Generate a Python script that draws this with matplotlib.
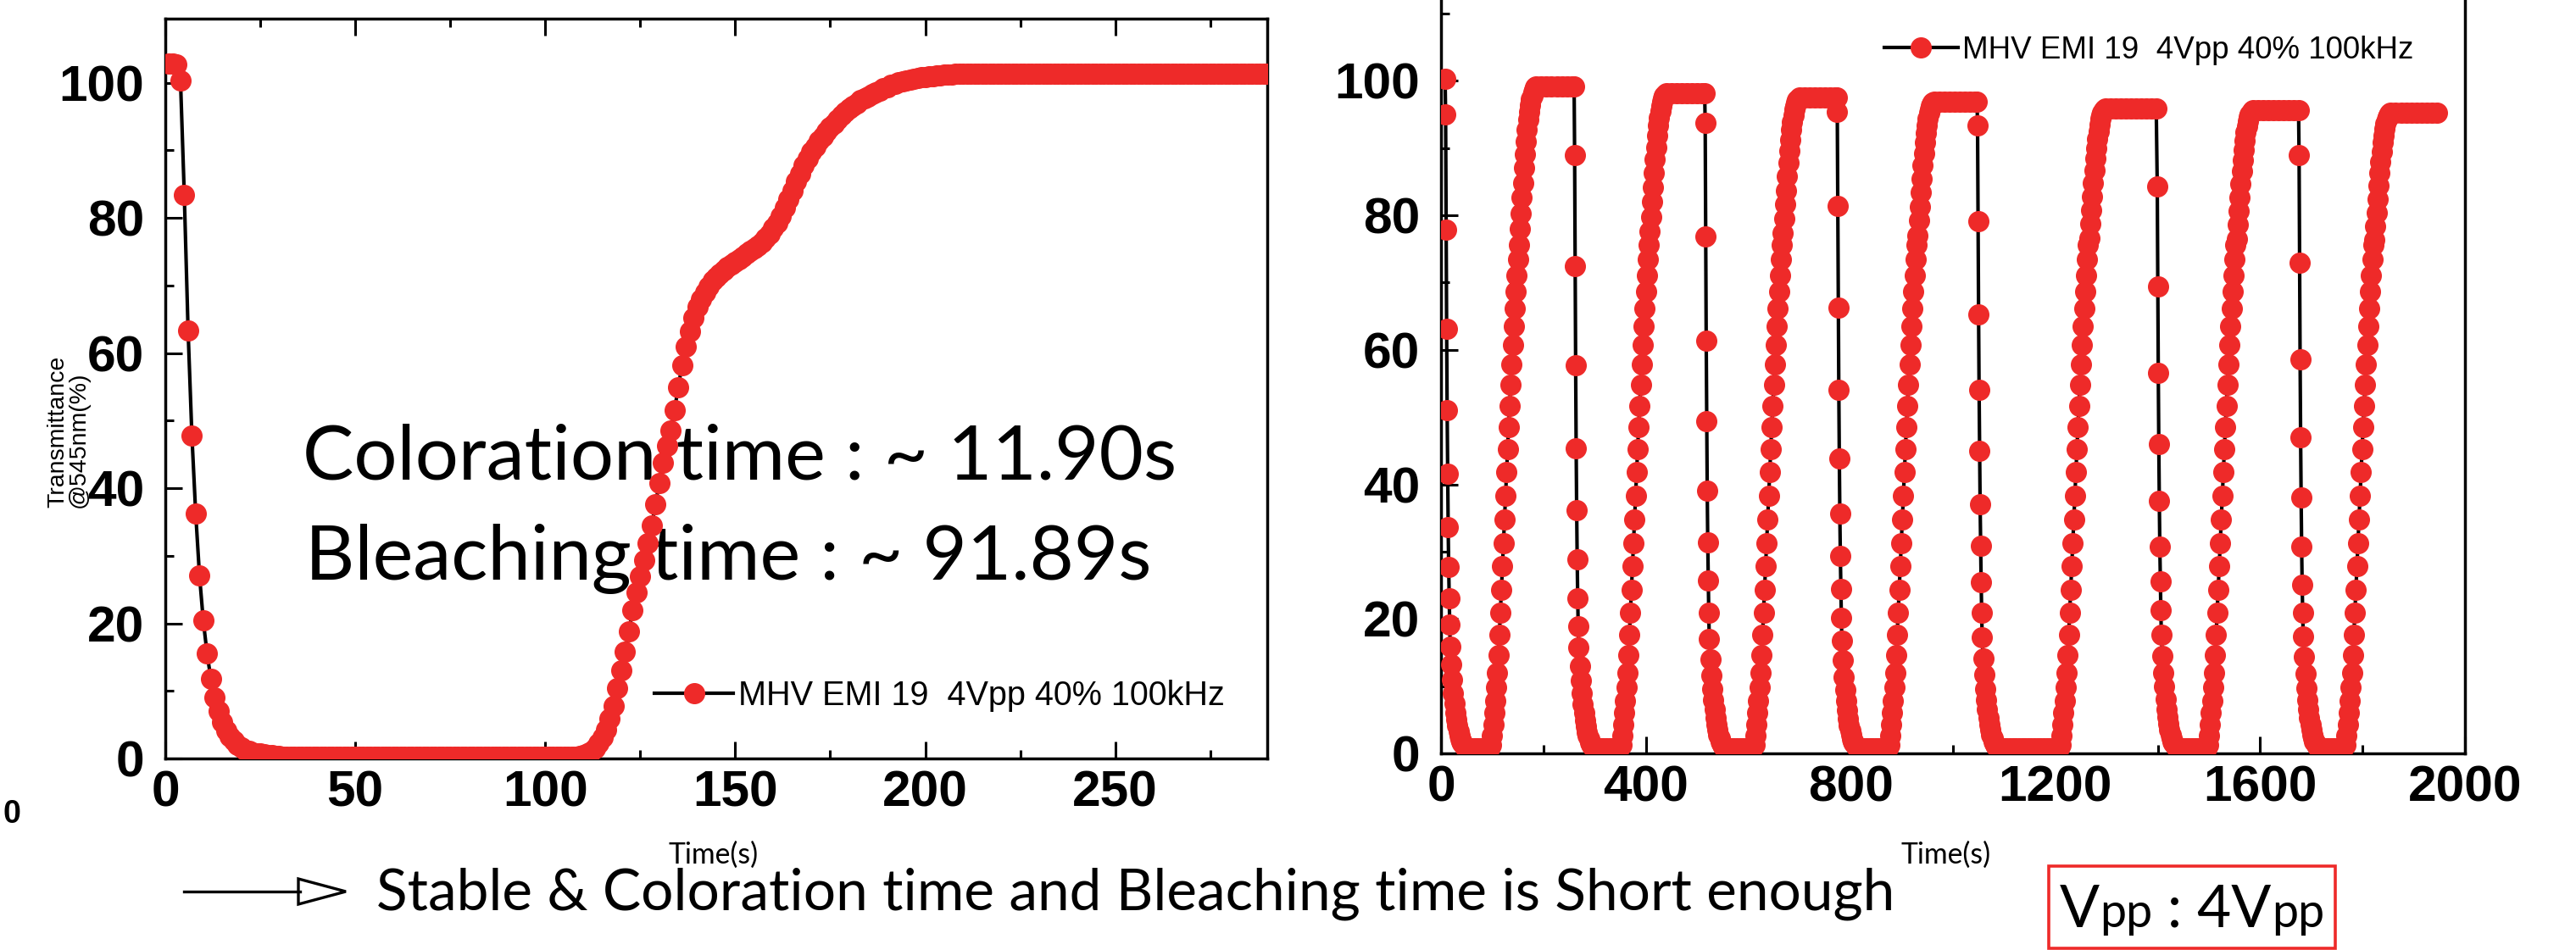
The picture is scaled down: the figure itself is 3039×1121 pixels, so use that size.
import numpy as np
import matplotlib
matplotlib.use("Agg")
import matplotlib.pyplot as plt
from matplotlib.lines import Line2D
from matplotlib.patches import Polygon, Rectangle
from matplotlib.ticker import MultipleLocator
from matplotlib.offsetbox import TextArea, HPacker, AnchoredOffsetbox

RED = "#ee2a29"
W, H = 3039, 1121  # output size in px at dpi 100

plt.rcParams["font.family"] = "Liberation Sans"

# ---- left panel: one coloration / bleaching run, one sample per second ----
t_single = np.arange(1, 291)
T_single = [
    102.9, 102.9, 102.7, 100.4, 83.4, 63.3, 47.8, 36.3, 27.1, 20.4,
    15.5, 11.8, 9.0, 7.0, 5.4, 4.2, 3.3, 2.6, 2.0, 1.6,
    1.3, 1.1, 0.9, 0.8, 0.7, 0.6, 0.5, 0.5, 0.4, 0.4,
    0.3, 0.3, 0.3, 0.3, 0.3, 0.3, 0.3, 0.3, 0.3, 0.3,
    0.3, 0.3, 0.3, 0.3, 0.3, 0.3, 0.3, 0.3, 0.3, 0.3,
    0.3, 0.3, 0.3, 0.3, 0.3, 0.3, 0.3, 0.3, 0.3, 0.3,
    0.3, 0.3, 0.3, 0.3, 0.3, 0.3, 0.3, 0.3, 0.3, 0.3,
    0.3, 0.3, 0.3, 0.3, 0.3, 0.3, 0.3, 0.3, 0.3, 0.3,
    0.3, 0.3, 0.3, 0.3, 0.3, 0.3, 0.3, 0.3, 0.3, 0.3,
    0.3, 0.3, 0.3, 0.3, 0.3, 0.3, 0.3, 0.3, 0.3, 0.3,
    0.3, 0.3, 0.3, 0.3, 0.3, 0.3, 0.3, 0.3, 0.4, 0.5,
    0.7, 1.0, 1.5, 2.2, 3.1, 4.3, 5.9, 7.8, 10.4, 13.0,
    15.8, 18.8, 21.9, 24.6, 27.0, 29.3, 31.9, 34.5, 37.6, 40.8,
    43.8, 46.3, 48.6, 51.5, 55.0, 58.2, 61.0, 63.2, 65.2, 66.8,
    68.0, 69.0, 69.9, 70.7, 71.3, 71.8, 72.3, 72.7, 73.1, 73.5,
    73.9, 74.3, 74.7, 75.1, 75.5, 75.9, 76.4, 77.0, 77.7, 78.5,
    79.3, 80.3, 81.5, 82.8, 84.1, 85.4, 86.6, 87.8, 88.8, 89.8,
    90.6, 91.4, 92.1, 92.8, 93.4, 94.0, 94.6, 95.2, 95.7, 96.2,
    96.6, 97.0, 97.4, 97.7, 98.0, 98.3, 98.6, 98.9, 99.2, 99.4,
    99.7, 99.9, 100.1, 100.2, 100.4, 100.5, 100.6, 100.7, 100.8, 100.9,
    101.0, 101.0, 101.1, 101.1, 101.2, 101.2, 101.2, 101.3, 101.3, 101.3,
    101.3, 101.3, 101.3, 101.3, 101.3, 101.3, 101.3, 101.3, 101.3, 101.3,
    101.3, 101.3, 101.3, 101.3, 101.3, 101.3, 101.3, 101.3, 101.3, 101.3,
    101.3, 101.3, 101.3, 101.3, 101.3, 101.3, 101.3, 101.3, 101.3, 101.3,
    101.3, 101.3, 101.3, 101.3, 101.3, 101.3, 101.3, 101.3, 101.3, 101.3,
    101.3, 101.3, 101.3, 101.3, 101.3, 101.3, 101.3, 101.3, 101.3, 101.3,
    101.3, 101.3, 101.3, 101.3, 101.3, 101.3, 101.3, 101.3, 101.3, 101.3,
    101.3, 101.3, 101.3, 101.3, 101.3, 101.3, 101.3, 101.3, 101.3, 101.3,
    101.3, 101.3, 101.3, 101.3, 101.3, 101.3, 101.3, 101.3, 101.3, 101.3,
]

# ---- right panel: repeated switching, one block per cycle ----
# each block: bleach drop, tail, dark floor, slow recovery, bright plateau
cycle1_t = [8, 9, 10, 11, 12, 13, 14, 15, 16, 17, 18,
            20, 22, 24, 26, 28, 30, 32, 34, 36, 38, 40, 42, 44, 46, 48,
            54, 60, 66, 72, 78, 84, 90, 95,
            98, 100, 102, 104, 106, 108, 110, 112, 114, 116, 118, 120, 122, 124, 126,
            128, 130, 132, 134, 136, 138, 140, 142, 144, 146, 148, 150, 152, 154, 156,
            158, 160, 162, 164, 166, 168, 170, 172, 174, 176, 178, 180, 182, 184, 186,
            196, 206, 216, 226, 236, 246, 256, 260]
cycle1_T = [100.3, 95.0, 77.8, 63.1, 51.0, 41.6, 33.6, 27.7, 23.1, 19.1, 15.9,
            13.2, 10.9, 9.0, 7.4, 6.1, 5.0, 4.1, 3.3, 2.7, 2.2, 1.8, 1.5, 1.2, 1.0, 0.9,
            0.8, 0.8, 0.8, 0.8, 0.8, 0.8, 0.8, 0.8,
            1.2, 2.7, 4.3, 6.0, 7.8, 9.8, 12.0, 14.6, 17.6, 20.9, 24.3, 27.8, 31.3, 34.8,
            38.3, 41.8, 45.2, 48.5, 51.7, 54.8, 57.8, 60.7, 63.5, 66.2, 68.7, 71.1, 73.4, 75.6,
            78.0, 80.3, 82.6, 84.8, 87.0, 89.1, 91.0, 92.7, 94.2, 95.4, 96.4, 97.2, 97.8,
            98.3, 98.7, 99.0, 99.2,
            99.2, 99.2, 99.2, 99.2, 99.2, 99.2, 99.2, 99.2]

cycle2_t = [261, 262, 263, 264, 265, 266, 267, 268, 269,
            271, 273, 275, 277, 279, 281, 283, 285, 287, 289, 291, 293, 295, 297, 299,
            305, 311, 317, 323, 329, 335, 341, 347,
            352, 354, 356, 358, 360, 362, 364, 366, 368, 370, 372, 374, 376, 378, 380,
            382, 384, 386, 388, 390, 392, 394, 396, 398, 400, 402, 404, 406, 408, 410,
            412, 414, 416, 418, 420, 422, 424, 426, 428, 430, 432, 434, 436, 438, 440,
            450, 460, 470, 480, 490, 500, 510, 515]
cycle2_T = [89.0, 72.4, 57.7, 45.3, 36.1, 28.9, 23.1, 18.9, 15.7,
            13.0, 10.8, 8.9, 7.3, 6.0, 4.9, 4.0, 3.2, 2.6, 2.1, 1.7, 1.4, 1.1, 1.0, 0.9,
            0.8, 0.8, 0.8, 0.8, 0.8, 0.8, 0.8, 0.8,
            1.2, 2.7, 4.3, 6.0, 7.8, 9.8, 12.0, 14.6, 17.6, 20.9, 24.3, 27.8, 31.3, 34.8,
            38.3, 41.8, 45.2, 48.5, 51.7, 54.8, 57.8, 60.7, 63.5, 66.2, 68.7, 71.1, 73.4, 75.6,
            77.6, 79.8, 82.0, 84.2, 86.3, 88.3, 90.1, 91.8, 93.3, 94.5, 95.5, 96.3, 96.9,
            97.4, 97.8, 98.0, 98.2,
            98.2, 98.2, 98.2, 98.2, 98.2, 98.2, 98.2, 98.2]

cycle3_t = [516, 517, 518, 519, 520, 521, 522, 523, 524,
            526, 528, 530, 532, 534, 536, 538, 540, 542, 544, 546, 548, 550, 552, 554,
            560, 566, 572, 578, 584, 590, 596, 602, 608,
            612, 614, 616, 618, 620, 622, 624, 626, 628, 630, 632, 634, 636, 638, 640,
            642, 644, 646, 648, 650, 652, 654, 656, 658, 660, 662, 664, 666, 668, 670,
            672, 674, 676, 678, 680, 682, 684, 686, 688, 690, 692, 694, 696, 698, 700,
            710, 720, 730, 740, 750, 760, 770, 773]
cycle3_T = [93.7, 76.9, 61.3, 49.4, 39.1, 31.4, 25.7, 20.9, 17.0,
            14.0, 11.6, 9.6, 7.9, 6.5, 5.3, 4.3, 3.5, 2.8, 2.3, 1.8, 1.5, 1.2, 1.0, 0.9,
            0.8, 0.8, 0.8, 0.8, 0.8, 0.8, 0.8, 0.8, 0.8,
            1.2, 2.7, 4.3, 6.0, 7.8, 9.8, 12.0, 14.6, 17.6, 20.9, 24.3, 27.8, 31.3, 34.8,
            38.3, 41.8, 45.2, 48.5, 51.7, 54.8, 57.8, 60.7, 63.5, 66.2, 68.7, 71.1, 73.4, 75.6,
            77.3, 79.5, 81.6, 83.7, 85.8, 87.8, 89.6, 91.2, 92.7, 93.9, 94.9, 95.7, 96.3,
            96.8, 97.1, 97.3, 97.5,
            97.5, 97.5, 97.5, 97.5, 97.5, 97.5, 97.5, 97.5]

cycle4_t = [774, 775, 776, 777, 778, 779, 780, 781, 782, 783,
            785, 787, 789, 791, 793, 795, 797, 799, 801, 803, 805, 807, 809, 811, 813,
            819, 825, 831, 837, 843, 849, 855, 861, 867, 872,
            875, 877, 879, 881, 883, 885, 887, 889, 891, 893, 895, 897, 899, 901, 903,
            905, 907, 909, 911, 913, 915, 917, 919, 921, 923, 925, 927, 929, 931, 933,
            935, 937, 939, 941, 943, 945, 947, 949, 951, 953, 955, 957, 959, 961, 963,
            973, 983, 993, 1003, 1013, 1023, 1033, 1043, 1047]
cycle4_T = [95.4, 81.4, 66.3, 54.0, 43.8, 35.6, 29.4, 24.4, 20.1, 16.7,
            13.8, 11.4, 9.4, 7.8, 6.4, 5.2, 4.2, 3.4, 2.8, 2.2, 1.8, 1.5, 1.2, 1.0, 0.9,
            0.8, 0.8, 0.8, 0.8, 0.8, 0.8, 0.8, 0.8, 0.8, 0.8,
            1.2, 2.7, 4.3, 6.0, 7.8, 9.8, 12.0, 14.6, 17.6, 20.9, 24.3, 27.8, 31.3, 34.8,
            38.3, 41.8, 45.2, 48.5, 51.7, 54.8, 57.8, 60.7, 63.5, 66.2, 68.7, 71.1, 73.4, 75.6,
            77.0, 79.2, 81.3, 83.4, 85.4, 87.4, 89.2, 90.8, 92.2, 93.4, 94.4, 95.2, 95.8,
            96.2, 96.5, 96.7, 96.9,
            96.9, 96.9, 96.9, 96.9, 96.9, 96.9, 96.9, 96.9, 96.9]

cycle5_t = [1048, 1049, 1050, 1051, 1052, 1053, 1054, 1055, 1056, 1057,
            1059, 1061, 1063, 1065, 1067, 1069, 1071, 1073, 1075, 1077, 1079, 1081, 1083,
            1085, 1087,
            1093, 1099, 1105, 1111, 1117, 1123, 1129, 1135, 1141, 1147, 1153, 1159, 1165,
            1171, 1177, 1183, 1189, 1195, 1201, 1207,
            1210, 1212, 1214, 1216, 1218, 1220, 1222, 1224, 1226, 1228, 1230, 1232, 1234,
            1236, 1238, 1240, 1242, 1244, 1246, 1248, 1250, 1252, 1254, 1256, 1258, 1260,
            1262, 1264, 1266, 1268, 1270, 1272, 1274, 1276, 1278, 1280, 1282, 1284, 1286,
            1288, 1290, 1292, 1294, 1296, 1298,
            1308, 1318, 1328, 1338, 1348, 1358, 1368, 1378, 1388, 1397]
cycle5_T = [93.3, 79.1, 65.3, 54.0, 45.0, 37.1, 30.9, 25.4, 20.9, 17.2,
            14.1, 11.7, 9.6, 7.9, 6.5, 5.3, 4.3, 3.5, 2.8, 2.3, 1.8, 1.5, 1.2, 1.0, 0.9,
            0.8, 0.8, 0.8, 0.8, 0.8, 0.8, 0.8, 0.8, 0.8, 0.8,
            0.8, 0.8, 0.8, 0.8, 0.8, 0.8, 0.8, 0.8, 0.8, 0.8,
            1.2, 2.7, 4.3, 6.0, 7.8, 9.8, 12.0, 14.6, 17.6, 20.9, 24.3, 27.8, 31.3, 34.8,
            38.3, 41.8, 45.2, 48.5, 51.7, 54.8, 57.8, 60.7, 63.5, 66.2, 68.7, 71.1, 73.4, 75.6,
            76.6, 78.7, 80.8, 82.8, 84.8, 86.7, 88.4, 89.9, 91.3, 92.5, 93.5, 94.3, 94.9,
            95.3, 95.6, 95.8, 95.9,
            95.9, 95.9, 95.9, 95.9, 95.9, 95.9, 95.9, 95.9, 95.9, 95.9]

cycle6_t = [1399, 1400, 1401, 1402, 1403, 1404, 1405, 1406, 1407,
            1409, 1411, 1413, 1415, 1417, 1419, 1421, 1423, 1425, 1427, 1429, 1431, 1433,
            1435, 1437,
            1443, 1449, 1455, 1461, 1467, 1473, 1479, 1485, 1491, 1495,
            1498, 1500, 1502, 1504, 1506, 1508, 1510, 1512, 1514, 1516, 1518, 1520, 1522,
            1524, 1526, 1528, 1530, 1532, 1534, 1536, 1538, 1540, 1542, 1544, 1546, 1548,
            1550, 1552, 1554, 1556, 1558, 1560, 1562, 1564, 1566, 1568, 1570, 1572, 1574,
            1576, 1578, 1580, 1582, 1584, 1586,
            1596, 1606, 1616, 1626, 1636, 1646, 1656, 1666, 1675]
cycle6_T = [84.3, 69.4, 56.6, 46.0, 37.5, 30.8, 25.6, 21.3, 17.6,
            14.5, 12.0, 9.9, 8.1, 6.6, 5.4, 4.4, 3.5, 2.8, 2.3, 1.8, 1.5, 1.2, 1.0, 0.9,
            0.8, 0.8, 0.8, 0.8, 0.8, 0.8, 0.8, 0.8, 0.8, 0.8,
            1.2, 2.7, 4.3, 6.0, 7.8, 9.8, 12.0, 14.6, 17.6, 20.9, 24.3, 27.8, 31.3, 34.8,
            38.3, 41.8, 45.2, 48.5, 51.7, 54.8, 57.8, 60.7, 63.5, 66.2, 68.7, 71.1, 73.4, 75.6,
            76.5, 78.6, 80.6, 82.6, 84.6, 86.5, 88.2, 89.7, 91.1, 92.3, 93.2, 94.0, 94.6,
            95.0, 95.3, 95.5, 95.6,
            95.6, 95.6, 95.6, 95.6, 95.6, 95.6, 95.6, 95.6, 95.6]

cycle7_t = [1676, 1677, 1678, 1679, 1680, 1681, 1682, 1683, 1684,
            1686, 1688, 1690, 1692, 1694, 1696, 1698, 1700, 1702, 1704, 1706, 1708, 1710,
            1712, 1714,
            1720, 1726, 1732, 1738, 1744, 1750, 1756, 1762,
            1767, 1769, 1771, 1773, 1775, 1777, 1779, 1781, 1783, 1785, 1787, 1789, 1791,
            1793, 1795, 1797, 1799, 1801, 1803, 1805, 1807, 1809, 1811, 1813, 1815, 1817,
            1819, 1821, 1823, 1825, 1827, 1829, 1831, 1833, 1835, 1837, 1839, 1841, 1843,
            1845, 1847, 1849, 1851, 1853, 1855,
            1865, 1875, 1885, 1895, 1905, 1915, 1925, 1935, 1945]
cycle7_T = [88.9, 73.0, 58.6, 47.0, 38.0, 30.8, 25.1, 20.9, 17.4,
            14.3, 11.8, 9.7, 8.0, 6.5, 5.3, 4.3, 3.5, 2.8, 2.3, 1.8, 1.5, 1.2, 1.0, 0.9,
            0.8, 0.8, 0.8, 0.8, 0.8, 0.8, 0.8, 0.8,
            1.2, 2.7, 4.3, 6.0, 7.8, 9.8, 12.0, 14.6, 17.6, 20.9, 24.3, 27.8, 31.3, 34.8,
            38.3, 41.8, 45.2, 48.5, 51.7, 54.8, 57.8, 60.7, 63.5, 66.2, 68.7, 71.1, 73.4, 75.6,
            76.3, 78.4, 80.4, 82.4, 84.4, 86.3, 88.0, 89.5, 90.8, 91.9, 92.8, 93.6, 94.2,
            94.6, 94.9, 95.1, 95.2,
            95.2, 95.2, 95.2, 95.2, 95.2, 95.2, 95.2, 95.2, 95.2]

t_cycles = cycle1_t + cycle2_t + cycle3_t + cycle4_t + cycle5_t + cycle6_t + cycle7_t
T_cycles = cycle1_T + cycle2_T + cycle3_T + cycle4_T + cycle5_T + cycle6_T + cycle7_T

series_label = "MHV EMI 19  4Vpp 40% 100kHz"
left_xticks = [0, 50, 100, 150, 200, 250]
right_xticks = [0, 400, 800, 1200, 1600, 2000]
yticks = [0, 20, 40, 60, 80, 100]

coloration_note = "Coloration time : ~ 11.90s"
bleaching_note = "Bleaching time : ~ 91.89s"
summary_note = "Stable & Coloration time and Bleaching time is Short enough"


def fx(x):
    return x / W


def fy(y):
    return 1 - y / H


fig = plt.figure(figsize=(W / 100, H / 100), dpi=100)
fig.patch.set_facecolor("white")
renderer = fig.canvas.get_renderer()


def fit_width(txt, width_px):
    w = txt.get_window_extent(renderer=renderer).width
    txt.set_fontsize(txt.get_fontsize() * width_px / w)
    return txt.get_fontsize()


ax1 = fig.add_axes([fx(195), fy(895), 1300 / W, 873 / H])
ax2 = fig.add_axes([fx(1700), fy(889), 1208 / W, 889 / H])

style = dict(color="black", lw=3.0, marker="o", ms=17, mfc=RED, mec=RED, zorder=3)
line1, = ax1.plot(t_single, T_single, **style)
line2, = ax2.plot(t_cycles, T_cycles, **style)

ax1.set_xlim(0, 290)
ax1.set_ylim(0, 109.5)
ax2.set_xlim(0, 2000)
ax2.set_ylim(0, 112)

ax1.set_xticks(left_xticks)
ax1.xaxis.set_minor_locator(MultipleLocator(25))
ax2.set_xticks(right_xticks)
ax2.xaxis.set_minor_locator(MultipleLocator(200))

for ax, xt in ((ax1, left_xticks), (ax2, right_xticks)):
    ax.set_yticks(yticks)
    ax.yaxis.set_minor_locator(MultipleLocator(10))
    ax.set_xticklabels([str(v) for v in xt], fontsize=43.5, fontweight="bold")
    ax.set_yticklabels([str(v) for v in yticks], fontsize=43.5, fontweight="bold")
    ax.tick_params(which="major", direction="in", length=14.5, width=2.2)
    ax.tick_params(which="minor", direction="in", length=7.5, width=2.2)
    ax.tick_params(axis="x", which="both", pad=10)
    ax.tick_params(axis="y", which="both", pad=18)
    for sp in ax.spines.values():
        sp.set_linewidth(2.5)

ax1.tick_params(which="both", top=True, right=False)
ax2.tick_params(which="both", top=False, right=False)
ax2.spines["top"].set_visible(False)

leg_kw = dict(frameon=False, numpoints=1, handlelength=2.35, handletextpad=0.15,
              borderpad=0, borderaxespad=0)
ax1.legend([line1], [series_label], loc="center left", bbox_to_anchor=(0.444, 0.085),
           prop={"family": "Liberation Sans", "size": 28.5}, **leg_kw)
ax2.legend([line2], [series_label], loc="center left", bbox_to_anchor=(0.433, 0.933),
           prop={"family": "Liberation Sans", "size": 26.5}, **leg_kw)

# notes inside the left panel, drawn under the data points
note1 = ax1.text(fx(357), fy(565), coloration_note, transform=fig.transFigure,
                 family="Lato", fontsize=60, va="baseline", ha="left", zorder=1)
size = fit_width(note1, 1032)
ax1.text(fx(360), fy(684), bleaching_note, transform=fig.transFigure,
         family="Lato", fontsize=size, va="baseline", ha="left", zorder=1)

# axis titles
fig.text(fx(81), fy(599), "Transmittance\n@545nm(%)", rotation=90, ha="center",
         va="bottom", ma="left", fontsize=20.5, linespacing=0.92)
tl = fig.text(fx(842), fy(1019), "Time(s)", family="Lato", fontsize=26,
              ha="center", va="baseline")
tsize = fit_width(tl, 106)
fig.text(fx(2296), fy(1019), "Time(s)", family="Lato", fontsize=tsize,
         ha="center", va="baseline")

# leftover tick label at the far left edge
fig.text(fx(14), fy(961), "0", ha="center", va="center", fontsize=27, fontweight="bold")

# summary line with hollow arrow
fig.add_artist(Line2D([fx(217), fx(354)], [fy(1052), fy(1052)], color="black", lw=2.4))
fig.add_artist(Polygon([(fx(352), fy(1037)), (fx(352), fy(1067)), (fx(408), fy(1052))],
                       closed=True, facecolor="white", edgecolor="black", lw=2.4,
                       transform=fig.transFigure))
summary = fig.text(fx(444), fy(1074), summary_note, family="Lato", fontsize=55,
                   ha="left", va="baseline")
fit_width(summary, 1792)

# Vpp box
fig.add_artist(Rectangle((fx(2417), fy(1119)), 338 / W, 97 / H, transform=fig.transFigure,
                         fill=False, edgecolor=RED, lw=2.6))
big = {"family": "Lato", "size": 50}
small = {"family": "Lato", "size": 40}
vpp = HPacker(children=[TextArea("V", textprops=big), TextArea("pp", textprops=small),
                        TextArea(" : 4V", textprops=big), TextArea("pp", textprops=small)],
              align="baseline", pad=0, sep=0)
fig.add_artist(AnchoredOffsetbox(loc="center", child=vpp, pad=0, borderpad=0, frameon=False,
                                 bbox_to_anchor=(fx(2586), fy(1074)),
                                 bbox_transform=fig.transFigure))

fig.savefig("out.png", dpi=100, facecolor="white")
